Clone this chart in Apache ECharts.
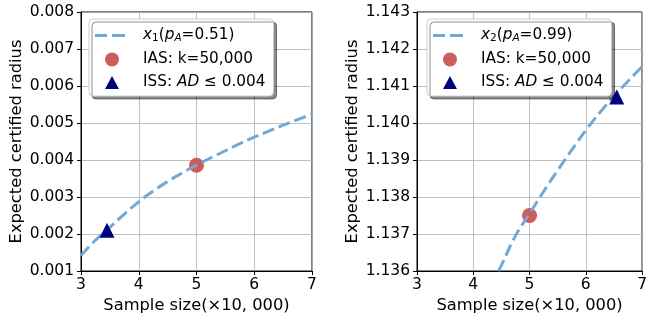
<!DOCTYPE html>
<html>
<head>
<meta charset="utf-8">
<script src="https://cdn.jsdelivr.net/npm/echarts@6/dist/echarts.min.js"></script>
<style>
  html, body { margin: 0; padding: 0; background: #fff; }
  #chart { width: 650px; height: 322px; }
</style>
</head>
<body>
<div id="chart"></div>
<script>
// sample size in units of 10,000
const xTicks = [3, 4, 5, 6, 7];

// left panel: x1 (pA = 0.51)
const curveX1 = [3.0, 3.25, 3.5, 3.75, 4.0, 4.25, 4.5, 4.75, 5.0, 5.25, 5.5, 5.75, 6.0, 6.25, 6.5, 6.75, 7.0];
const curveY1 = [0.00142, 0.00183, 0.00218, 0.00254, 0.00287, 0.00316, 0.00342, 0.00365, 0.00386, 0.00406, 0.00425, 0.00444, 0.00462, 0.00478, 0.00494, 0.00509, 0.00524];
const ias1 = [5, 0.00386];
const iss1 = [3.45, 0.0021];

// right panel: x2 (pA = 0.99)
const curveX2 = [4.45, 4.5, 4.75, 5.0, 5.25, 5.5, 5.75, 6.0, 6.25, 6.5, 6.75, 7.0];
const curveY2 = [1.1360, 1.13615, 1.13695, 1.13755, 1.13815, 1.13872, 1.13927, 1.13980, 1.14028, 1.14072, 1.14113, 1.14152];
const ias2 = [5, 1.1375];
const iss2 = [6.55, 1.1407];

const FONT = 'DejaVu Sans';
const LINE_COLOR = '#71a9d6';
const IAS_COLOR = '#cd5c5c';
const ISS_COLOR = '#000080';

// legend icons, drawn in a 43x15 box (the empty moveTo's pin the box size)
const BOX = 'M0,0M43,15';
const DASH_ICON = 'path://' + BOX + 'M0,6h12v3h-12zM17,6h13v3h-13z';
const DOT_ICON = 'path://' + BOX + 'M24,7.5A7,7,0,1,1,10,7.5A7,7,0,1,1,24,7.5Z';
const TRI_ICON = 'path://' + BOX + 'M17,1L24,14L10,14Z';

const pairs = (xs, ys) => xs.map((x, i) => [x, ys[i]]);

function xAxisFor(idx) {
  return {
    gridIndex: idx, type: 'value', min: xTicks[0], max: xTicks[xTicks.length - 1], interval: 1,
    name: 'Sample size(\u00d710, 000)', nameLocation: 'middle', nameGap: 24,
    nameTextStyle: { fontFamily: FONT, fontSize: 16.3, color: '#000' },
    axisLine: { show: true, onZero: false, lineStyle: { color: '#000', width: 1 } },
    axisTick: { show: true, length: 4, lineStyle: { color: '#000' } },
    axisLabel: { fontFamily: FONT, fontSize: 15.5, color: '#000', margin: 6 },
    splitLine: { show: true, lineStyle: { color: '#b0b0b0', width: 0.8 } }
  };
}

function yAxisFor(idx, min, max) {
  return {
    gridIndex: idx, type: 'value', min: min, max: max, interval: 0.001,
    name: 'Expected certified radius', nameLocation: 'middle', nameGap: 56,
    nameTextStyle: { fontFamily: FONT, fontSize: 16.3, color: '#000' },
    axisLine: { show: true, onZero: false, lineStyle: { color: '#000', width: 1 } },
    axisTick: { show: true, length: 4, lineStyle: { color: '#000' } },
    axisLabel: { fontFamily: FONT, fontSize: 15.5, color: '#000', margin: 7,
      formatter: v => v.toFixed(3) },
    splitLine: { show: true, lineStyle: { color: '#b0b0b0', width: 0.8 } }
  };
}

const LF = 15.3;
const rich = {
  n: { fontFamily: FONT, fontSize: LF, color: '#000' },
  i: { fontFamily: FONT, fontSize: LF, fontStyle: 'italic', color: '#000' },
  s: { fontFamily: FONT, fontSize: 10.5, fontStyle: 'italic', color: '#000', verticalAlign: 'bottom', padding: [6, 0, 0, 0] },
  d: { fontFamily: FONT, fontSize: 10.5, color: '#000', verticalAlign: 'bottom', padding: [6, 0, 0, 0] }
};

function legendText(name) {
  if (name === 'x1') return '{i|x}{d|1}{n|(}{i|p}{s|A}{n|=0.51)}';
  if (name === 'x2') return '{i|x}{d|2}{n|(}{i|p}{s|A}{n|=0.99)}';
  if (name.indexOf('IAS') === 0) return '{n|IAS: k=50,000}';
  return '{n|ISS: }{i|AD}{n| \u2264 0.004}';
}

function legendFor(names, left, top) {
  return {
    data: [
      { name: names[0], icon: DASH_ICON },
      { name: names[1], icon: DOT_ICON },
      { name: names[2], icon: TRI_ICON }
    ],
    orient: 'vertical', left: left, top: top,
    itemWidth: 43, itemHeight: 15, itemGap: 8,
    padding: [9, 8, 6, 6],
    symbolKeepAspect: true,
    backgroundColor: '#fff', borderColor: '#cccccc', borderWidth: 1, borderRadius: 4,
    shadowColor: 'rgba(0,0,0,0.45)', shadowBlur: 0, shadowOffsetX: 3, shadowOffsetY: 3,
    formatter: legendText,
    textStyle: { rich: rich },
    selectedMode: false
  };
}

const chart = echarts.init(document.getElementById('chart'), null, { renderer: 'canvas' });
chart.setOption({
  animation: false,
  backgroundColor: '#fff',
  grid: [
    { left: 81, top: 12, width: 231, height: 259, show: true, borderColor: '#000', borderWidth: 1 },
    { left: 417, top: 12, width: 231, height: 259, show: true, borderColor: '#000', borderWidth: 1 }
  ],
  xAxis: [xAxisFor(0), xAxisFor(1)],
  yAxis: [yAxisFor(0, 0.001, 0.008), yAxisFor(1, 1.136, 1.143)],
  legend: [
    legendFor(['x1', 'IAS: k=50,000', 'ISS: AD<=0.004'], 89, 19),
    legendFor(['x2', 'IAS: k=50,000 ', 'ISS: AD<=0.004 '], 427, 19)
  ],
  series: [
    { name: 'IAS: k=50,000', type: 'scatter', xAxisIndex: 0, yAxisIndex: 0, data: [ias1],
      symbol: 'circle', symbolSize: 15, itemStyle: { color: IAS_COLOR, opacity: 1 }, z: 2 },
    { name: 'x1', type: 'line', xAxisIndex: 0, yAxisIndex: 0, data: pairs(curveX1, curveY1),
      symbol: 'none', smooth: true, color: LINE_COLOR, itemStyle: { color: LINE_COLOR }, z: 3,
      lineStyle: { color: LINE_COLOR, width: 3, type: [12, 5] } },
    { name: 'ISS: AD<=0.004', type: 'scatter', xAxisIndex: 0, yAxisIndex: 0, data: [iss1],
      symbol: 'triangle', symbolSize: 15, itemStyle: { color: ISS_COLOR, opacity: 1 }, z: 4 },
    { name: 'IAS: k=50,000 ', type: 'scatter', xAxisIndex: 1, yAxisIndex: 1, data: [ias2],
      symbol: 'circle', symbolSize: 15, itemStyle: { color: IAS_COLOR, opacity: 1 }, z: 2 },
    { name: 'x2', type: 'line', xAxisIndex: 1, yAxisIndex: 1, data: pairs(curveX2, curveY2),
      symbol: 'none', smooth: true, color: LINE_COLOR, itemStyle: { color: LINE_COLOR }, z: 3,
      lineStyle: { color: LINE_COLOR, width: 3, type: [12, 5] } },
    { name: 'ISS: AD<=0.004 ', type: 'scatter', xAxisIndex: 1, yAxisIndex: 1, data: [iss2],
      symbol: 'triangle', symbolSize: 15, itemStyle: { color: ISS_COLOR, opacity: 1 }, z: 4 }
  ]
});
</script>
</body>
</html>
